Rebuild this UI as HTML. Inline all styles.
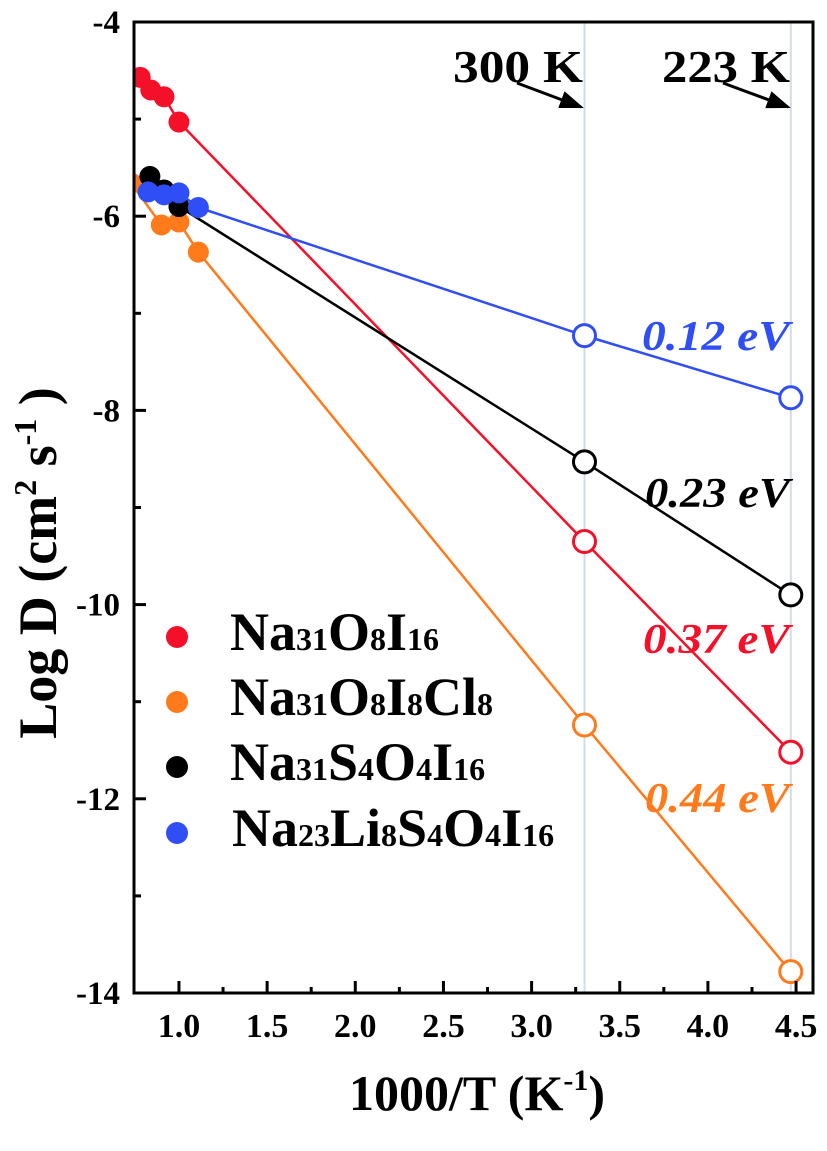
<!DOCTYPE html>
<html><head><meta charset="utf-8"><style>
html,body{margin:0;padding:0;background:#fff;}
svg{display:block;font-family:"Liberation Serif",serif;}
</style></head><body>
<svg id="chart" width="827" height="1151" viewBox="0 0 827 1151" xmlns="http://www.w3.org/2000/svg">
<defs><clipPath id="plotclip"><rect x="134" y="22" width="679" height="971"/></clipPath>
<marker id="arrowhead" markerWidth="8" markerHeight="6" refX="7" refY="3" orient="auto" markerUnits="strokeWidth"><path d="M0,0 L8,3 L0,6 z" fill="#000"/></marker></defs>
<g id="grid"></g>
<g id="series" clip-path="url(#plotclip)"></g>
<rect x="134" y="22" width="679" height="971" fill="none" stroke="#000" stroke-width="3"/>
<g id="axes"></g>
<text x="56" y="563" transform="rotate(-90 56 563)" text-anchor="middle" font-size="54" font-weight="bold">Log D (cm<tspan font-size="32" dy="-20">2</tspan><tspan dy="20"> s</tspan><tspan font-size="32" dy="-20">-1</tspan><tspan dy="20"> )</tspan></text>
<text x="477" y="1110" text-anchor="middle" font-size="50" font-weight="bold">1000/T (K<tspan font-size="30" dy="-20">-1</tspan><tspan dy="20">)</tspan></text>
<text x="453" y="82" font-size="46" font-weight="bold" textLength="130" lengthAdjust="spacingAndGlyphs">300 K</text>
<line x1="517" y1="83" x2="581" y2="107" stroke="#000" stroke-width="3" marker-end="url(#arrowhead)"/>
<text x="662" y="82" font-size="46" font-weight="bold" textLength="128" lengthAdjust="spacingAndGlyphs">223 K</text>
<line x1="723" y1="83" x2="788" y2="107" stroke="#000" stroke-width="3" marker-end="url(#arrowhead)"/>
<text x="642" y="350" font-size="42" font-weight="bold" font-style="italic" fill="#2f4ef5" textLength="148" lengthAdjust="spacingAndGlyphs">0.12 eV</text>
<text x="645" y="507" font-size="42" font-weight="bold" font-style="italic" fill="#000" textLength="145" lengthAdjust="spacingAndGlyphs">0.23 eV</text>
<text x="643" y="653" font-size="42" font-weight="bold" font-style="italic" fill="#f5102a" textLength="147" lengthAdjust="spacingAndGlyphs">0.37 eV</text>
<text x="645" y="812" font-size="42" font-weight="bold" font-style="italic" fill="#ff7a1a" textLength="145" lengthAdjust="spacingAndGlyphs">0.44 eV</text>
<g>
<circle cx="177" cy="637" r="11" fill="#f5102a"/>
<text x="230" y="650" font-size="54" font-weight="bold">Na<tspan font-size="32">31</tspan>O<tspan font-size="32">8</tspan>I<tspan font-size="32">16</tspan></text>
<circle cx="177" cy="702" r="11" fill="#ff7a1a"/>
<text x="230" y="715" font-size="54" font-weight="bold">Na<tspan font-size="32">31</tspan>O<tspan font-size="32">8</tspan>I<tspan font-size="32">8</tspan>Cl<tspan font-size="32">8</tspan></text>
<circle cx="177" cy="767" r="11" fill="#000"/>
<text x="230" y="780" font-size="54" font-weight="bold">Na<tspan font-size="32">31</tspan>S<tspan font-size="32">4</tspan>O<tspan font-size="32">4</tspan>I<tspan font-size="32">16</tspan></text>
<circle cx="177" cy="833" r="11" fill="#2f4ef5"/>
<text x="232" y="846" font-size="54" font-weight="bold">Na<tspan font-size="32">23</tspan>Li<tspan font-size="32">8</tspan>S<tspan font-size="32">4</tspan>O<tspan font-size="32">4</tspan>I<tspan font-size="32">16</tspan></text>
</g>
</svg>
<script>
const xTicks = [1.0, 1.5, 2.0, 2.5, 3.0, 3.5, 4.0, 4.5];
const xTickLabels = ["1.0","1.5","2.0","2.5","3.0","3.5","4.0","4.5"];
const yTicks = [-4, -6, -8, -10, -12, -14];
const yTickLabels = ["-4","-6","-8","-10","-12","-14"];
const refTemps = [3.3, 4.47];
const redX = [0.78, 0.84, 0.915, 1.0, 3.3, 4.47];
const redY = [-4.57, -4.70, -4.77, -5.03, -9.35, -11.52];
const orangeX = [0.73, 0.9, 1.0, 1.11, 3.3, 4.47];
const orangeY = [-5.66, -6.09, -6.06, -6.37, -11.24, -13.78];
const blackX = [0.835, 0.915, 1.0, 3.3, 4.47];
const blackY = [-5.59, -5.73, -5.9, -8.53, -9.9];
const blueX = [0.825, 0.915, 1.0, 1.11, 3.3, 4.47];
const blueY = [-5.75, -5.78, -5.76, -5.91, -7.23, -7.87];
const openCount = 2;

const NS = "http://www.w3.org/2000/svg";
const X0 = 134, X1 = 813, Y0 = 22, Y1 = 993;
const xMin = 0.745, xMax = 4.596, yMax = -4, yMin = -14;
function sx(v){ return X0 + (v - xMin) / (xMax - xMin) * (X1 - X0); }
function sy(v){ return Y0 + (yMax - v) / (yMax - yMin) * (Y1 - Y0); }
function mk(tag, attrs, parent){ const e = document.createElementNS(NS, tag); for (const k in attrs) e.setAttribute(k, attrs[k]); parent.appendChild(e); return e; }

const axes = document.getElementById('axes');
xTicks.forEach((t, i) => {
  const l = mk('line', {x1: sx(t), x2: sx(t), y1: Y1, y2: Y1 - 12, stroke: '#000', 'stroke-width': 3}, axes);
  
  
  const m = mk('line', {x1: sx(t + 0.25), x2: sx(t + 0.25), y1: Y1, y2: Y1 - 6, stroke: '#000', 'stroke-width': 3}, axes);
  
  
  const tx = mk('text', {x: sx(t), y: 1037, 'text-anchor': 'middle', 'font-size': 34, 'font-weight': 'bold'}, axes);
  tx.textContent = xTickLabels[i];
  
  
});
yTicks.forEach((t, i) => {
  const l = mk('line', {x1: X0, x2: X0 + 12, y1: sy(t), y2: sy(t), stroke: '#000', 'stroke-width': 3}, axes);
  
  
  if (t > -14) {
    const m = mk('line', {x1: X0, x2: X0 + 7, y1: sy(t - 1), y2: sy(t - 1), stroke: '#000', 'stroke-width': 3}, axes);
    
    
  }
  const tx = mk('text', {x: 120, y: sy(t) + 11, 'text-anchor': 'end', 'font-size': 33, 'font-weight': 'bold'}, axes);
  tx.textContent = yTickLabels[i];
  
  
});

const grid = document.getElementById('grid');
refTemps.forEach(t => {
  const l = mk('line', {x1: sx(t), x2: sx(t), y1: Y0, y2: Y1, stroke: '#d3dbe3', 'stroke-width': 2}, grid);
  
  
});

const series = document.getElementById('series');
function drawSeries(xs, ys, color, name){
  const g = mk('g', {}, series);
  
  
  const pts = xs.map((x, i) => sx(x) + ',' + sy(ys[i])).join(' ');
  const pl = mk('polyline', {points: pts, fill: 'none', stroke: color, 'stroke-width': 2.5}, g);
  
  
  const n = xs.length;
  xs.forEach((x, i) => {
    const open = i >= n - openCount;
    const c = mk('circle', open
      ? {cx: sx(x), cy: sy(ys[i]), r: 11, fill: '#fff', stroke: color, 'stroke-width': 3}
      : {cx: sx(x), cy: sy(ys[i]), r: 10.5, fill: color}, g);
    
    
  });
}
drawSeries(orangeX, orangeY, '#ff7a1a', 'orange');
drawSeries(redX, redY, '#f5102a', 'red');
drawSeries(blackX, blackY, '#000000', 'black');
drawSeries(blueX, blueY, '#2f4ef5', 'blue');
</script>
</body></html>
